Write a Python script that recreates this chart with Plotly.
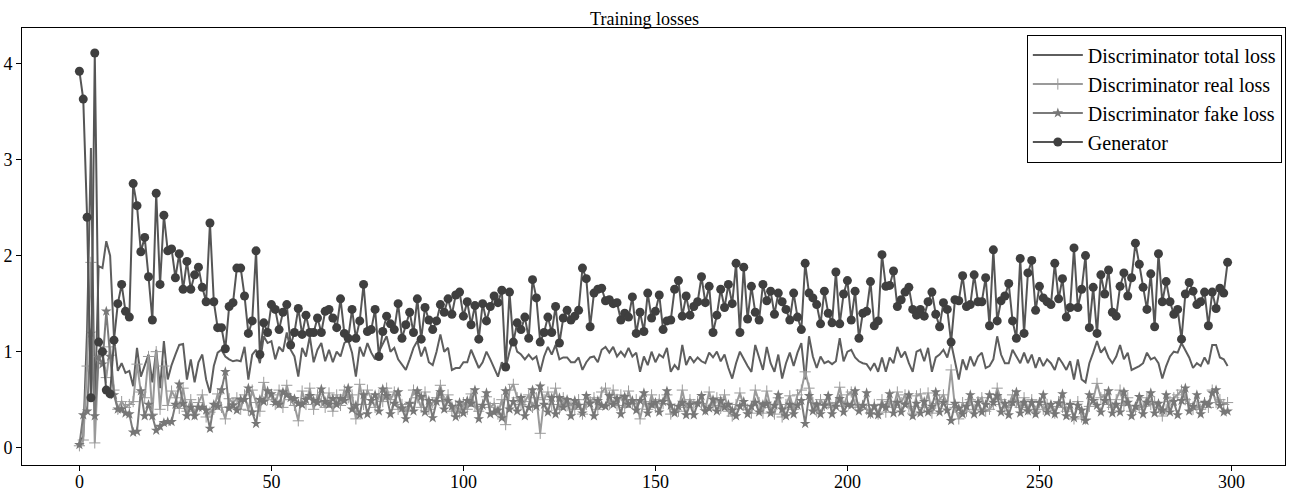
import plotly.graph_objects as go

epochs = list(range(300))

generator = [
3.92,3.63,2.40,0.52,4.11,1.10,1.00,0.60,0.56,1.12,
1.50,1.70,1.42,1.36,2.75,2.52,2.04,2.19,1.78,1.33,
2.65,1.70,2.42,2.05,2.07,1.77,2.02,1.65,1.94,1.65,
1.80,1.88,1.67,1.52,2.34,1.52,1.25,1.25,1.03,1.47,
1.51,1.87,1.87,1.58,1.19,1.32,2.05,0.97,1.30,1.20,
1.49,1.44,1.23,1.41,1.49,1.07,1.20,1.45,1.18,1.38,
1.20,1.20,1.35,1.20,1.42,1.44,1.35,1.25,1.55,1.19,
1.14,1.44,1.14,1.32,1.70,1.21,1.23,1.44,0.95,1.21,
1.37,1.29,1.23,1.50,1.14,1.28,1.41,1.20,1.55,1.13,
1.46,1.33,1.23,1.32,1.49,1.41,1.55,1.39,1.59,1.62,
1.37,1.52,1.28,1.48,1.13,1.50,1.32,1.47,1.58,1.51,
1.64,0.84,1.62,1.10,1.30,1.23,1.36,1.14,1.75,1.56,
1.10,1.20,1.36,1.20,1.47,1.09,1.35,1.43,1.33,1.37,
1.43,1.87,1.76,1.26,1.61,1.65,1.66,1.53,1.54,1.50,
1.51,1.33,1.40,1.36,1.57,1.19,1.41,1.21,1.61,1.35,
1.42,1.59,1.23,1.32,1.33,1.65,1.74,1.37,1.58,1.38,
1.47,1.52,1.78,1.51,1.68,1.20,1.38,1.65,1.46,1.70,
1.50,1.92,1.20,1.88,1.34,1.68,1.41,1.33,1.70,1.53,
1.63,1.39,1.61,1.52,1.44,1.33,1.61,1.36,1.23,1.92,
1.61,1.56,1.49,1.29,1.63,1.40,1.30,1.83,1.29,1.60,
1.74,1.33,1.63,1.14,1.40,1.42,1.73,1.27,1.32,2.01,
1.68,1.69,1.84,1.47,1.54,1.62,1.67,1.44,1.38,1.44,
1.37,1.52,1.62,1.39,1.26,1.51,1.44,1.10,1.54,1.53,
1.79,1.47,1.49,1.80,1.52,1.52,1.77,1.27,2.06,1.32,
1.53,1.58,1.71,1.32,1.14,1.97,1.19,1.82,1.95,1.43,
1.68,1.56,1.52,1.49,1.92,1.55,1.76,1.36,1.46,2.08,
1.46,1.65,2.00,1.25,1.67,1.19,1.80,1.60,1.85,1.41,
1.37,1.68,1.82,1.58,1.77,2.13,1.91,1.67,1.44,1.81,
1.26,2.02,1.52,1.73,1.52,1.39,1.44,1.13,1.60,1.72,
1.63,1.49,1.52,1.62,1.27,1.62,1.45,1.66,1.61,1.93,
]

disc_total = [
0.05,0.12,1.23,3.12,0.35,1.89,1.87,2.15,2.00,1.15,
0.80,0.88,0.78,0.80,0.64,1.04,0.74,0.85,0.97,0.68,
1.02,0.62,1.11,0.71,0.86,0.97,1.07,1.08,0.71,0.92,
0.68,0.89,0.97,0.71,0.57,0.85,0.99,1.02,0.95,0.92,
0.90,0.91,0.90,1.05,0.71,0.97,1.02,0.88,1.16,1.09,
1.11,0.92,1.05,1.00,1.20,1.02,0.95,0.74,1.04,0.95,
1.16,0.89,1.02,1.09,0.90,1.02,0.89,1.00,0.95,1.09,
1.12,0.99,0.74,1.05,0.95,1.09,0.99,0.92,1.00,1.09,
1.16,1.00,1.04,0.92,0.86,0.81,0.92,1.04,1.11,0.95,
1.05,0.89,0.86,1.00,1.18,1.00,1.04,0.81,0.83,0.83,
0.89,0.89,1.02,0.92,0.83,0.89,1.00,0.92,0.83,0.74,
0.89,0.83,1.00,1.14,1.00,0.97,0.92,0.97,0.92,0.95,
0.79,0.95,1.05,0.97,1.07,0.92,0.94,0.94,0.89,0.89,
0.94,0.81,0.89,0.94,0.95,0.89,1.02,1.05,0.99,1.05,
0.95,1.00,0.95,1.04,0.95,0.99,0.79,0.95,0.86,1.00,
0.89,0.97,0.94,1.04,0.79,0.86,0.81,1.07,0.86,0.95,
0.89,0.94,0.90,0.88,0.99,0.94,1.00,0.90,0.97,0.83,
0.72,0.88,1.00,0.92,0.85,0.79,1.07,0.94,0.81,1.05,
0.88,0.79,0.97,0.72,0.88,0.99,0.85,0.99,1.09,0.71,
1.16,0.95,0.83,0.95,0.88,0.90,0.87,0.90,1.14,0.90,
1.00,1.02,0.94,0.90,0.88,0.87,0.81,0.88,0.79,0.94,
0.79,0.94,0.88,1.05,0.94,1.00,0.88,0.79,1.00,1.02,
0.90,1.04,0.79,0.94,0.97,1.02,0.94,1.09,0.88,0.71,
0.92,0.81,0.95,0.85,0.95,0.99,0.83,0.85,0.92,1.16,
0.97,0.88,0.88,1.02,0.95,0.88,0.99,0.88,0.97,0.83,
0.94,0.85,0.92,0.88,0.81,0.94,0.88,0.81,0.90,0.71,
0.92,0.71,0.68,0.88,0.99,1.11,0.99,1.04,0.94,0.88,
0.95,1.07,0.92,0.99,0.81,0.83,0.85,0.88,0.99,0.92,
0.94,0.88,0.72,0.85,0.95,1.00,0.99,1.09,1.02,0.94,
0.83,0.88,0.85,0.94,0.87,1.07,1.07,0.94,0.92,0.85,
]

disc_real = [
0.02,0.08,0.85,1.93,0.05,0.95,1.00,0.73,1.05,0.60,
0.40,0.48,0.42,0.45,0.48,0.87,0.58,0.52,0.95,0.35,
1.00,0.40,0.85,0.44,0.59,0.52,0.41,0.62,0.38,0.50,
0.35,0.47,0.55,0.32,0.37,0.40,0.56,0.42,0.30,0.51,
0.46,0.52,0.40,0.55,0.39,0.60,0.47,0.38,0.68,0.50,
0.55,0.45,0.60,0.42,0.65,0.50,0.44,0.28,0.59,0.45,
0.62,0.40,0.55,0.48,0.42,0.57,0.38,0.55,0.44,0.60,
0.52,0.55,0.30,0.66,0.45,0.60,0.50,0.42,0.55,0.48,
0.62,0.50,0.58,0.40,0.45,0.38,0.46,0.60,0.52,0.42,
0.58,0.40,0.47,0.52,0.65,0.48,0.55,0.38,0.44,0.36,
0.47,0.40,0.56,0.43,0.38,0.45,0.53,0.42,0.46,0.35,
0.50,0.24,0.60,0.66,0.52,0.45,0.48,0.55,0.42,0.52,
0.15,0.50,0.58,0.45,0.62,0.40,0.52,0.44,0.46,0.40,
0.50,0.35,0.45,0.48,0.52,0.40,0.58,0.62,0.45,0.60,
0.44,0.55,0.42,0.59,0.46,0.50,0.30,0.48,0.40,0.55,
0.42,0.50,0.46,0.55,0.35,0.40,0.38,0.60,0.42,0.50,
0.45,0.48,0.46,0.40,0.58,0.44,0.52,0.41,0.55,0.38,
0.33,0.45,0.57,0.44,0.40,0.36,0.60,0.47,0.36,0.59,
0.42,0.35,0.52,0.32,0.45,0.54,0.40,0.55,0.60,0.79,
0.62,0.47,0.38,0.50,0.44,0.46,0.42,0.47,0.63,0.43,
0.55,0.58,0.45,0.42,0.44,0.40,0.36,0.45,0.35,0.50,
0.37,0.48,0.42,0.58,0.47,0.55,0.43,0.36,0.54,0.56,
0.42,0.57,0.36,0.46,0.50,0.55,0.45,0.81,0.42,0.30,
0.47,0.38,0.50,0.40,0.48,0.52,0.38,0.40,0.45,0.62,
0.50,0.42,0.44,0.55,0.47,0.42,0.52,0.40,0.50,0.38,
0.47,0.40,0.45,0.43,0.36,0.48,0.42,0.38,0.45,0.30,
0.48,0.32,0.30,0.43,0.50,0.67,0.52,0.55,0.45,0.42,
0.50,0.60,0.44,0.52,0.38,0.40,0.42,0.43,0.52,0.45,
0.48,0.42,0.33,0.40,0.48,0.52,0.55,0.60,0.50,0.46,
0.40,0.43,0.40,0.47,0.42,0.60,0.47,0.50,0.45,0.47,
]

disc_fake = [
0.03,0.34,0.38,1.19,0.33,0.94,0.87,1.42,0.95,0.55,
0.40,0.40,0.36,0.35,0.16,0.17,0.59,0.33,0.45,0.33,
0.18,0.22,0.26,0.27,0.27,0.45,0.66,0.46,0.33,0.42,
0.33,0.42,0.42,0.39,0.20,0.45,0.43,0.60,0.79,0.41,
0.44,0.39,0.50,0.50,0.62,0.37,0.25,0.50,0.48,0.59,
0.56,0.47,0.45,0.58,0.55,0.52,0.51,0.46,0.45,0.50,
0.54,0.49,0.47,0.61,0.48,0.45,0.51,0.45,0.51,0.49,
0.62,0.40,0.44,0.34,0.55,0.35,0.49,0.55,0.38,0.61,
0.54,0.35,0.46,0.58,0.41,0.30,0.46,0.38,0.59,0.53,
0.37,0.49,0.31,0.48,0.58,0.40,0.49,0.43,0.32,0.47,
0.36,0.49,0.46,0.60,0.30,0.44,0.57,0.35,0.37,0.39,
0.31,0.59,0.40,0.48,0.38,0.52,0.33,0.42,0.60,0.43,
0.64,0.45,0.37,0.52,0.35,0.52,0.42,0.50,0.33,0.49,
0.44,0.36,0.54,0.46,0.33,0.49,0.44,0.43,0.54,0.45,
0.51,0.35,0.53,0.45,0.49,0.39,0.49,0.57,0.36,0.45,
0.47,0.37,0.48,0.59,0.44,0.36,0.43,0.47,0.34,0.45,
0.34,0.46,0.54,0.38,0.41,0.50,0.38,0.49,0.42,0.45,
0.39,0.33,0.43,0.48,0.35,0.43,0.47,0.37,0.45,0.46,
0.36,0.44,0.55,0.40,0.33,0.45,0.35,0.44,0.49,0.25,
0.54,0.38,0.45,0.35,0.44,0.54,0.35,0.43,0.51,0.37,
0.45,0.44,0.59,0.38,0.44,0.57,0.35,0.43,0.34,0.44,
0.42,0.56,0.36,0.47,0.37,0.45,0.55,0.33,0.46,0.36,
0.48,0.37,0.43,0.58,0.37,0.47,0.39,0.28,0.46,0.41,
0.35,0.43,0.55,0.35,0.47,0.37,0.45,0.55,0.47,0.54,
0.37,0.46,0.34,0.47,0.58,0.36,0.47,0.38,0.47,0.35,
0.47,0.55,0.37,0.45,0.35,0.46,0.56,0.33,0.45,0.31,
0.44,0.39,0.28,0.55,0.49,0.44,0.37,0.49,0.59,0.36,
0.45,0.37,0.58,0.47,0.33,0.43,0.53,0.35,0.47,0.57,
0.36,0.46,0.39,0.55,0.37,0.48,0.34,0.49,0.62,0.38,
0.43,0.55,0.35,0.47,0.45,0.57,0.60,0.44,0.37,0.38,
]

x_ticks = [0, 50, 100, 150, 200, 250, 300]
y_ticks = [0, 1, 2, 3, 4]

FONT = "Liberation Serif, Times New Roman, serif"

fig = go.Figure()
fig.add_trace(go.Scatter(
    x=epochs, y=disc_total, mode="lines", name="Discriminator total loss",
    line=dict(color="#5e5e5e", width=2),
))
fig.add_trace(go.Scatter(
    x=epochs, y=disc_real, mode="lines+markers", name="Discriminator real loss",
    line=dict(color="#9a9a9a", width=2),
    marker=dict(symbol="cross-thin", size=8, color="#9a9a9a",
                line=dict(color="#9a9a9a", width=1)),
))
fig.add_trace(go.Scatter(
    x=epochs, y=disc_fake, mode="lines+markers", name="Discriminator fake loss",
    line=dict(color="#7a7a7a", width=2),
    marker=dict(symbol="star", size=8, color="#777777"),
))
fig.add_trace(go.Scatter(
    x=epochs, y=generator, mode="lines+markers", name="Generator",
    line=dict(color="#555555", width=2),
    marker=dict(symbol="circle", size=9, color="#3f3f3f"),
))

fig.update_layout(
    width=1289, height=493,
    margin=dict(l=22, r=4, t=28, b=28),
    paper_bgcolor="white", plot_bgcolor="white",
    font=dict(family=FONT, size=18, color="black"),
    title=dict(text="Training losses", x=0.5, xanchor="center",
               y=1 - 19 / 493, yanchor="middle",
               font=dict(family=FONT, size=18, color="black")),
    showlegend=True,
    legend=dict(x=0.9975, y=0.985, xanchor="right", yanchor="top",
                bgcolor="white", bordercolor="black", borderwidth=1,
                font=dict(family=FONT, size=20, color="black"),
                tracegroupgap=0, itemwidth=50),
)
fig.update_xaxes(
    range=[-14.95, 313.95], tickvals=x_ticks, ticks="outside", ticklen=5,
    tickcolor="black", showline=True, linecolor="black", linewidth=1, mirror=True,
    showgrid=False, zeroline=False, automargin=False, ticklabelstandoff=-5,
    tickfont=dict(family=FONT, size=18),
)
fig.update_yaxes(
    range=[-0.18, 4.37], tickvals=y_ticks, ticks="outside", ticklen=5,
    tickcolor="black", showline=True, linecolor="black", linewidth=1, mirror=True,
    showgrid=False, zeroline=False, automargin=False,
    tickfont=dict(family=FONT, size=18),
)

fig.write_html(
    "out.html",
    config={"displayModeBar": False},
    post_script="document.body.style.margin='0';document.body.style.overflow='hidden';",
)
